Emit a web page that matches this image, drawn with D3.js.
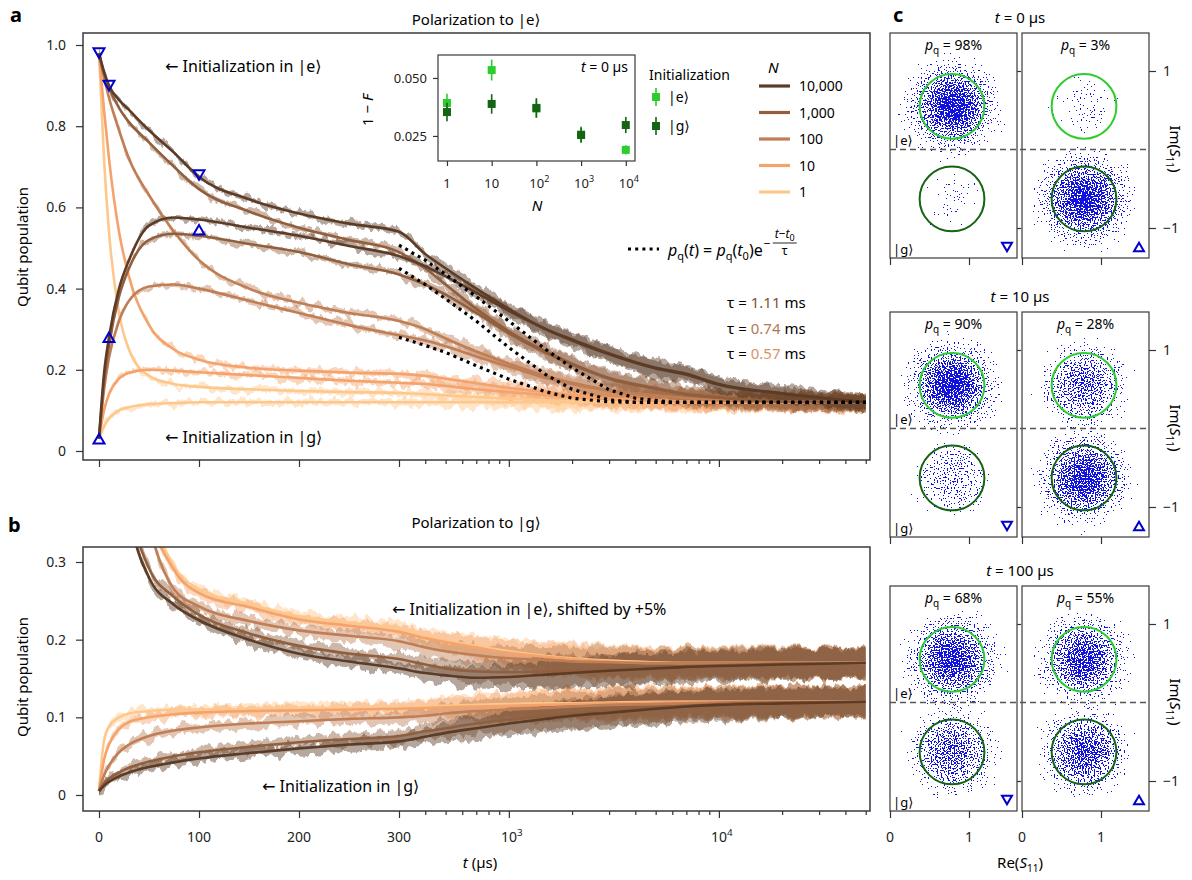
<!DOCTYPE html>
<html>
<head>
<meta charset="utf-8">
<script src="https://cdn.jsdelivr.net/npm/d3@7"></script>
<style>
  body { margin: 0; background: #fff; }
  svg { font-family: 'Noto Sans', 'DejaVu Sans', sans-serif; }
</style>
</head>
<body>
<svg id="fig" width="1192" height="880"></svg>
<script>
// ---------------- data ----------------
// time grid in µs shared by every trace
const tGrid = [0, 5, 10, 20, 30, 50, 75, 100, 150, 200, 250, 300, 400, 500, 700, 1000, 1500, 2000, 3000, 5000, 7000, 10000, 20000, 50000];
const nValues = [1, 10, 100, 1000, 10000];
const nLabels = ["1", "10", "100", "1,000", "10,000"];

// panel a: polarization to |e>
const eA1     = [0.98,0.72,0.54,0.34,0.25,0.185,0.165,0.158,0.152,0.148,0.145,0.143,0.14,0.137,0.133,0.129,0.125,0.123,0.121,0.12,0.12,0.12,0.12,0.12];
const gA1     = [0.03,0.06,0.08,0.10,0.108,0.115,0.118,0.12,0.12,0.12,0.12,0.12,0.12,0.12,0.12,0.12,0.12,0.12,0.12,0.12,0.12,0.12,0.12,0.12];
const eA10    = [0.98,0.84,0.72,0.54,0.43,0.31,0.25,0.225,0.205,0.198,0.193,0.19,0.185,0.178,0.167,0.155,0.145,0.138,0.13,0.125,0.122,0.12,0.12,0.12];
const gA10    = [0.03,0.10,0.14,0.178,0.193,0.20,0.198,0.194,0.187,0.18,0.173,0.168,0.165,0.16,0.152,0.145,0.138,0.133,0.128,0.123,0.121,0.12,0.12,0.12];
const eA100   = [0.98,0.92,0.87,0.79,0.72,0.63,0.54,0.47,0.40,0.365,0.34,0.32,0.30,0.277,0.245,0.215,0.185,0.168,0.15,0.137,0.13,0.125,0.121,0.12];
const gA100   = [0.03,0.15,0.23,0.32,0.37,0.405,0.41,0.40,0.37,0.34,0.31,0.285,0.272,0.258,0.233,0.208,0.18,0.165,0.148,0.136,0.13,0.125,0.121,0.12];
const eA1000  = [0.98,0.93,0.895,0.845,0.81,0.76,0.70,0.645,0.59,0.55,0.52,0.49,0.45,0.41,0.35,0.295,0.245,0.215,0.18,0.155,0.14,0.132,0.122,0.12];
const gA1000  = [0.03,0.17,0.26,0.38,0.45,0.52,0.535,0.53,0.51,0.49,0.46,0.435,0.41,0.385,0.34,0.29,0.242,0.213,0.178,0.153,0.139,0.131,0.122,0.12];
const eA10000 = [0.98,0.935,0.90,0.865,0.84,0.79,0.735,0.675,0.62,0.585,0.56,0.54,0.485,0.45,0.40,0.35,0.30,0.275,0.24,0.205,0.19,0.165,0.142,0.12];
const gA10000 = [0.03,0.19,0.28,0.40,0.47,0.555,0.575,0.57,0.55,0.53,0.505,0.48,0.455,0.43,0.39,0.345,0.30,0.272,0.238,0.203,0.188,0.163,0.141,0.12];

// panel b: polarization to |g> (|e> traces shifted by +5%)
const eB1     = [1.03,0.93,0.85,0.69,0.56,0.38,0.295,0.265,0.246,0.23,0.222,0.214,0.205,0.199,0.192,0.185,0.179,0.176,0.173,0.171,0.17,0.17,0.17,0.17];
const gB1     = [0.005,0.07,0.088,0.10,0.105,0.108,0.11,0.11,0.111,0.112,0.112,0.113,0.114,0.115,0.116,0.117,0.118,0.118,0.119,0.12,0.12,0.12,0.12,0.12];
const eB10    = [1.03,0.92,0.83,0.67,0.54,0.37,0.29,0.26,0.242,0.226,0.218,0.21,0.202,0.197,0.19,0.183,0.178,0.175,0.172,0.17,0.17,0.17,0.17,0.17];
const gB10    = [0.005,0.045,0.065,0.085,0.094,0.10,0.104,0.106,0.108,0.109,0.11,0.111,0.112,0.113,0.114,0.115,0.116,0.117,0.118,0.119,0.12,0.12,0.12,0.12];
const eB100   = [1.03,0.90,0.80,0.63,0.50,0.35,0.265,0.243,0.224,0.212,0.205,0.198,0.19,0.185,0.18,0.176,0.174,0.172,0.171,0.17,0.17,0.17,0.17,0.17];
const gB100   = [0.005,0.025,0.038,0.055,0.065,0.076,0.083,0.087,0.092,0.095,0.098,0.10,0.102,0.105,0.108,0.11,0.112,0.114,0.116,0.117,0.118,0.119,0.12,0.12];
const eB1000  = [1.03,0.82,0.68,0.51,0.39,0.292,0.255,0.232,0.208,0.192,0.182,0.175,0.168,0.163,0.159,0.158,0.159,0.16,0.162,0.165,0.166,0.167,0.169,0.17];
const gB1000  = [0.005,0.015,0.021,0.029,0.035,0.043,0.05,0.055,0.062,0.068,0.072,0.076,0.082,0.086,0.092,0.097,0.102,0.105,0.109,0.113,0.115,0.117,0.119,0.12];
const eB10000 = [1.03,0.80,0.65,0.48,0.37,0.28,0.245,0.225,0.20,0.182,0.172,0.163,0.157,0.154,0.151,0.152,0.155,0.157,0.16,0.163,0.165,0.166,0.168,0.17];
const gB10000 = [0.005,0.012,0.017,0.024,0.029,0.036,0.042,0.047,0.054,0.06,0.065,0.069,0.075,0.08,0.086,0.092,0.098,0.102,0.106,0.111,0.114,0.116,0.118,0.12];

// spread of the raw (noisy) traces around the fits, population units
const noiseHalf = [0.005,0.005,0.005,0.005,0.005,0.006,0.006,0.006,0.007,0.007,0.008,0.008,0.010,0.012,0.014,0.016,0.018,0.019,0.020,0.020,0.020,0.020,0.020,0.020];

// exponential fits (dotted), starting at t0 = 300 µs
const tDot   = [300, 400, 500, 700, 1000, 1500, 2000, 3000, 4000, 6000, 10000, 20000, 50000];
const dot111 = [0.507,0.47,0.435,0.38,0.32,0.25,0.205,0.151,0.13,0.12,0.12,0.12,0.12];
const dot074 = [0.45,0.41,0.375,0.32,0.255,0.188,0.152,0.126,0.12,0.12,0.12,0.12,0.12];
const dot057 = [0.28,0.26,0.243,0.21,0.177,0.146,0.13,0.121,0.12,0.12,0.12,0.12,0.12];
const tauLabels = ["1.11", "0.74", "0.57"];

// blue markers on panel a: [t, population]
const markDown = [[0, 0.98], [10, 0.90], [100, 0.68]];
const markUp   = [[0, 0.03], [10, 0.28], [100, 0.545]];

// inset: 1 - F versus N
const insetN  = [1, 10, 100, 1000, 10000];
const infidE  = [0.0392, 0.0534, 0.0368, 0.0256, 0.0190];
const errE    = [0.0040, 0.0045, 0.0040, 0.0035, 0.0020];
const infidG  = [0.0353, 0.0388, 0.0371, 0.0254, 0.0297];
const errG    = [0.0040, 0.0042, 0.0042, 0.0032, 0.0035];

// panel c: single-shot snapshots
const snapTimes = ["0", "10", "100"];
const pqLeft  = [98, 90, 68];
const pqRight = [3, 28, 55];
const circleE = [0.785, 0.55];   // Re, Im of |e> discrimination circle
const circleG = [0.785, -0.63];  // Re, Im of |g> discrimination circle
const circleR = 0.41;

const logMinor = [400,500,600,700,800,900,2000,3000,4000,5000,6000,7000,8000,9000,20000,30000,40000,50000];

// ---------------- styling ----------------
const fitColor = {1: "#fec88c", 10: "#f4a36d", 100: "#bf7e55", 1000: "#915f3e", 10000: "#5c3c26"};
const tauColor = ["#7e5233", "#b27a55", "#dc9262"];
const blue = "#1212dd";
const greenE = "#2ecc2e", greenG = "#146414";
const axisCol = "#333";

const svg = d3.select("#fig");
const defs = svg.append("defs");

// piecewise time axis: linear to 300 µs, logarithmic after
const xLin = d3.scaleLinear().domain([0, 300]).range([99, 399]);
const xLog = d3.scaleLog().domain([300, 52400]).range([399, 870]);
const xT = t => t <= 300 ? xLin(t) : xLog(t);

const yA = d3.scaleLinear().domain([0, 1]).range([451, 45]);
const yB = d3.scaleLinear().domain([0, 0.3]).range([795, 562]);

// jitter filters give the raw traces a noisy look
[3, 11, 23, 41].forEach((seed, k) => {
  const f = defs.append("filter").attr("id", "jitter" + k)
    .attr("filterUnits", "userSpaceOnUse").attr("x", 0).attr("y", 0).attr("width", 1192).attr("height", 880)
    .attr("color-interpolation-filters", "sRGB");
  f.append("feTurbulence").attr("type", "fractalNoise").attr("baseFrequency", "0.13 0.03")
    .attr("numOctaves", 3).attr("seed", seed).attr("result", "n");
  f.append("feColorMatrix").attr("in", "n").attr("type", "matrix")
    .attr("values", "0 0 0 0 0.5  1 0 0 0 0  0 0 0 0 0  0 0 0 0 1").attr("result", "d");
  f.append("feDisplacementMap").attr("in", "SourceGraphic").attr("in2", "d").attr("scale", 14)
    .attr("xChannelSelector", "R").attr("yChannelSelector", "G");
});

// speckle filter renders a scatter cloud from a density gradient
const grad = defs.append("radialGradient").attr("id", "cloudGrad");
[[0, 1], [0.1, 0.946], [0.2, 0.8], [0.3, 0.607], [0.4, 0.411], [0.5, 0.249], [0.6, 0.135],
 [0.7, 0.066], [0.8, 0.029], [0.9, 0.011], [1, 0]].forEach(([o, a]) =>
  grad.append("stop").attr("offset", o).attr("stop-color", "#fff").attr("stop-opacity", a));
// maps the noise to a roughly uniform value so coverage follows the gradient
const flatten = "0 0 0.0004 0.0018 0.0062 0.0188 0.0478 0.106 0.202 0.338 0.5 0.662 0.798 0.894 0.952 0.981 0.994 0.998 0.9996 1 1";
const speckMargin = 0.015;
[5, 17, 29, 37, 53, 61].forEach((seed, k) => {
  const f = defs.append("filter").attr("id", "speck" + k)
    .attr("x", 0).attr("y", 0).attr("width", 1).attr("height", 1)
    .attr("color-interpolation-filters", "sRGB");
  f.append("feTurbulence").attr("type", "fractalNoise").attr("baseFrequency", 0.7)
    .attr("numOctaves", 1).attr("seed", seed).attr("result", "noise");
  f.append("feColorMatrix").attr("in", "noise").attr("type", "matrix")
    .attr("values", "0 0 0 0 0  0 0 0 0 0  0 0 0 0 0  1 0 0 0 0").attr("result", "nA");
  f.append("feComponentTransfer").attr("in", "nA").attr("result", "nU")
    .append("feFuncA").attr("type", "table").attr("tableValues", flatten);
  f.append("feComposite").attr("in", "nU").attr("in2", "SourceGraphic").attr("operator", "arithmetic")
    .attr("k1", 0).attr("k2", 1).attr("k3", 1).attr("k4", -0.5 - speckMargin).attr("result", "sum");
  f.append("feComponentTransfer").attr("in", "sum").attr("result", "thr")
    .append("feFuncA").attr("type", "discrete").attr("tableValues", "0 1");
  f.append("feFlood").attr("flood-color", blue).attr("result", "blue");
  f.append("feComposite").attr("in", "blue").attr("in2", "thr").attr("operator", "in");
});

// ---------------- helpers ----------------
function sup(sel, base, exp) {
  sel.append("tspan").text(base);
  sel.append("tspan").attr("dy", -6).attr("font-size", "0.7em").text(exp);
}
function tri(cx, cy, s, down) {
  const h = s * 0.87;
  return down
    ? `M${cx - s / 2},${cy - h / 2}L${cx + s / 2},${cy - h / 2}L${cx},${cy + h / 2}Z`
    : `M${cx - s / 2},${cy + h / 2}L${cx + s / 2},${cy + h / 2}L${cx},${cy - h / 2}Z`;
}
function styleAxis(g) {
  g.select(".domain").remove();
  g.attr("font-family", null).attr("font-size", 14).attr("color", axisCol);
  g.selectAll("line").attr("stroke-width", 1.2);
  g.selectAll("text").attr("fill", "#222");
}

function drawTraces(yScale, series, clipId) {
  const layer = svg.append("g").attr("clip-path", `url(#${clipId})`);
  const band = d3.area()
    .x((d, i) => xT(tGrid[i]))
    .y0((d, i) => yScale(d - noiseHalf[i]))
    .y1((d, i) => yScale(d + noiseHalf[i]))
    .curve(d3.curveMonotoneX);
  const line = d3.line()
    .x((d, i) => xT(tGrid[i]))
    .y(d => yScale(d))
    .curve(d3.curveMonotoneX);
  series.forEach((s, k) => {
    [s.e, s.g].forEach((vals, j) => {
      layer.append("path").attr("d", band(vals))
        .attr("fill", fitColor[s.N]).attr("fill-opacity", 0.45)
        .attr("filter", `url(#jitter${(k * 2 + j) % 4})`);
    });
  });
  series.forEach(s => {
    [s.e, s.g].forEach(vals => {
      layer.append("path").attr("d", line(vals))
        .attr("fill", "none").attr("stroke", fitColor[s.N]).attr("stroke-width", 2.6);
    });
  });
  return layer;
}

function timeAxis(yPos, withLabels) {
  const g = svg.append("g");
  g.append("g").attr("transform", `translate(0,${yPos})`)
    .call(d3.axisBottom(xLin).tickValues([0, 100, 200, 300]).tickSize(7).tickFormat(""))
    .call(styleAxis);
  g.append("g").attr("transform", `translate(0,${yPos})`)
    .call(d3.axisBottom(xLog).tickValues([1000, 10000]).tickSize(7).tickFormat(""))
    .call(styleAxis);
  g.append("g").attr("transform", `translate(0,${yPos})`)
    .call(d3.axisBottom(xLog).tickValues(logMinor).tickSize(4).tickFormat(""))
    .call(styleAxis);
  if (withLabels) {
    [0, 100, 200, 300].forEach(v => g.append("text").attr("x", xLin(v)).attr("y", yPos + 31)
      .attr("text-anchor", "middle").attr("font-size", 14).attr("fill", "#222").text(v));
    [[1000, "3"], [10000, "4"]].forEach(([v, e]) => {
      const t = g.append("text").attr("x", xLog(v) + 3).attr("y", yPos + 31)
        .attr("text-anchor", "middle").attr("font-size", 14).attr("fill", "#222");
      sup(t, "10", e);
    });
  }
}

const seriesA = [
  {N: 1, e: eA1, g: gA1}, {N: 10, e: eA10, g: gA10}, {N: 100, e: eA100, g: gA100},
  {N: 1000, e: eA1000, g: gA1000}, {N: 10000, e: eA10000, g: gA10000}
];
const seriesB = [
  {N: 1, e: eB1, g: gB1}, {N: 10, e: eB10, g: gB10}, {N: 100, e: eB100, g: gB100},
  {N: 1000, e: eB1000, g: gB1000}, {N: 10000, e: eB10000, g: gB10000}
];

// ---------------- panel a ----------------
defs.append("clipPath").attr("id", "clipA").append("rect").attr("x", 83).attr("y", 33).attr("width", 787).attr("height", 427);
defs.append("clipPath").attr("id", "clipB").append("rect").attr("x", 83).attr("y", 547).attr("width", 787).attr("height", 264);

const layerA = drawTraces(yA, seriesA, "clipA");

// dotted exponential fits
const dotLine = d3.line().x((d, i) => xT(tDot[i])).y(d => yA(d));
[dot111, dot074, dot057].forEach(vals => {
  layerA.append("path").attr("d", dotLine(vals)).attr("fill", "none")
    .attr("stroke", "#000").attr("stroke-width", 3.2).attr("stroke-dasharray", "3,4.2");
});

// blue triangles
markDown.forEach(([t, p]) => svg.append("path").attr("d", tri(xT(t), yA(p), 11, true))
  .attr("fill", "none").attr("stroke", "#0000cc").attr("stroke-width", 2));
markUp.forEach(([t, p]) => svg.append("path").attr("d", tri(xT(t), yA(p), 11, false))
  .attr("fill", "none").attr("stroke", "#0000cc").attr("stroke-width", 2));

svg.append("rect").attr("x", 83).attr("y", 33).attr("width", 787).attr("height", 427)
  .attr("fill", "none").attr("stroke", "#3a3a3a").attr("stroke-width", 1.5);

svg.append("g").attr("transform", "translate(83,0)")
  .call(d3.axisLeft(yA).tickValues([0, 0.2, 0.4, 0.6, 0.8, 1.0])
    .tickFormat(d => d === 0 ? "0" : d.toFixed(1)).tickSize(7).tickPadding(10))
  .call(styleAxis);
timeAxis(460, false);

svg.append("text").attr("x", 10).attr("y", 22).attr("font-size", 20).attr("font-weight", "bold").text("a");
svg.append("text").attr("x", 476).attr("y", 25).attr("text-anchor", "middle").attr("font-size", 15).text("Polarization to |e⟩");
svg.append("text").attr("transform", "translate(28,247) rotate(-90)").attr("text-anchor", "middle")
  .attr("font-size", 15).text("Qubit population");
svg.append("text").attr("x", 165).attr("y", 72).attr("font-size", 16).text("← Initialization in |e⟩");
svg.append("text").attr("x", 165).attr("y", 443).attr("font-size", 16).text("← Initialization in |g⟩");

// formula legend for dotted fit
svg.append("line").attr("x1", 628).attr("x2", 659).attr("y1", 249).attr("y2", 249)
  .attr("stroke", "#000").attr("stroke-width", 3.2).attr("stroke-dasharray", "3,4.2");
const fm = svg.append("text").attr("x", 668).attr("y", 256).attr("font-size", 16);
fm.append("tspan").attr("font-style", "italic").text("p");
fm.append("tspan").attr("font-size", 11).attr("dy", 4).text("q");
fm.append("tspan").attr("dy", -4).text("(");
fm.append("tspan").attr("font-style", "italic").text("t");
fm.append("tspan").text(") = ");
fm.append("tspan").attr("font-style", "italic").text("p");
fm.append("tspan").attr("font-size", 11).attr("dy", 4).text("q");
fm.append("tspan").attr("dy", -4).text("(");
fm.append("tspan").attr("font-style", "italic").text("t");
fm.append("tspan").attr("font-size", 11).attr("dy", 4).text("0");
fm.append("tspan").attr("dy", -4).text(")e");
const fmEnd = 668 + fm.node().getComputedTextLength();
svg.append("text").attr("x", fmEnd + 1).attr("y", 248).attr("font-size", 12).text("−");
const fx = fmEnd + 22;
const num = svg.append("text").attr("x", fx).attr("y", 238).attr("text-anchor", "middle").attr("font-size", 12);
num.append("tspan").attr("font-style", "italic").text("t");
num.append("tspan").text("−");
num.append("tspan").attr("font-style", "italic").text("t");
num.append("tspan").attr("font-size", 9).attr("dy", 3).text("0");
svg.append("line").attr("x1", fx - 12).attr("x2", fx + 12).attr("y1", 243).attr("y2", 243)
  .attr("stroke", "#111").attr("stroke-width", 0.9);
svg.append("text").attr("x", fx).attr("y", 255).attr("text-anchor", "middle").attr("font-size", 12).text("τ");

tauLabels.forEach((lab, i) => {
  const t = svg.append("text").attr("x", 727).attr("y", 308 + i * 25.5).attr("font-size", 15);
  t.append("tspan").text("τ = ");
  t.append("tspan").attr("fill", tauColor[i]).text(lab);
  t.append("tspan").text(" ms");
});

// N legend
svg.append("text").attr("x", 768).attr("y", 73).attr("font-size", 15).attr("font-style", "italic").text("N");
nValues.slice().reverse().forEach((n, i) => {
  const y = 86 + i * 26.5;
  svg.append("line").attr("x1", 759).attr("x2", 790).attr("y1", y).attr("y2", y)
    .attr("stroke", fitColor[n]).attr("stroke-width", 3.2);
  svg.append("text").attr("x", 799).attr("y", y + 5).attr("font-size", 14)
    .text(nLabels[nValues.indexOf(n)]);
});

// ---------------- inset ----------------
const xIn = d3.scaleLog().domain([0.63, 16070]).range([438, 635]);
const yIn = d3.scaleLinear().domain([0.0142, 0.0599]).range([161, 55]);
svg.append("rect").attr("x", 438).attr("y", 55).attr("width", 197).attr("height", 106)
  .attr("fill", "#fff").attr("stroke", "#3a3a3a").attr("stroke-width", 1.2);
svg.append("g").attr("transform", "translate(438,0)")
  .call(d3.axisLeft(yIn).tickValues([0.025, 0.05]).tickFormat(d3.format(".3f")).tickSize(5).tickPadding(6))
  .call(styleAxis).attr("font-size", 13);
svg.append("g").attr("transform", "translate(0,161)")
  .call(d3.axisBottom(xIn).tickValues(insetN).tickFormat("").tickSize(5))
  .call(styleAxis);
const inLabels = [["1", ""], ["10", ""], ["10", "2"], ["10", "3"], ["10", "4"]];
insetN.forEach((n, i) => {
  const t = svg.append("text").attr("x", xIn(n) + (inLabels[i][1] ? 3 : 0)).attr("y", 188)
    .attr("text-anchor", "middle").attr("font-size", 13).attr("fill", "#222");
  sup(t, inLabels[i][0], inLabels[i][1]);
});
svg.append("text").attr("x", 537).attr("y", 211).attr("text-anchor", "middle")
  .attr("font-size", 15).attr("font-style", "italic").text("N");
const oneF = svg.append("text").attr("transform", "translate(373,110) rotate(-90)")
  .attr("text-anchor", "middle").attr("font-size", 15);
oneF.append("tspan").text("1 − ");
oneF.append("tspan").attr("font-style", "italic").text("F");
const tin = svg.append("text").attr("x", 628).attr("y", 72).attr("text-anchor", "end").attr("font-size", 14);
tin.append("tspan").attr("font-style", "italic").text("t");
tin.append("tspan").text(" = 0 µs");

function insetSeries(vals, errs, col) {
  insetN.forEach((n, i) => {
    svg.append("line").attr("x1", xIn(n)).attr("x2", xIn(n))
      .attr("y1", yIn(vals[i] - errs[i])).attr("y2", yIn(vals[i] + errs[i]))
      .attr("stroke", col).attr("stroke-width", 1.6);
    svg.append("rect").attr("x", xIn(n) - 4).attr("y", yIn(vals[i]) - 4)
      .attr("width", 8).attr("height", 8).attr("fill", col);
  });
}
insetSeries(infidE, errE, greenE);
insetSeries(infidG, errG, greenG);

svg.append("text").attr("x", 649).attr("y", 80).attr("font-size", 14).text("Initialization");
[[97, greenE, "|e⟩"], [126, greenG, "|g⟩"]].forEach(([y, col, lab]) => {
  svg.append("line").attr("x1", 656).attr("x2", 656).attr("y1", y - 9).attr("y2", y + 9)
    .attr("stroke", col).attr("stroke-width", 1.6);
  svg.append("rect").attr("x", 652).attr("y", y - 4).attr("width", 8).attr("height", 8).attr("fill", col);
  svg.append("text").attr("x", 668).attr("y", y + 5).attr("font-size", 14).text(lab);
});

// ---------------- panel b ----------------
drawTraces(yB, seriesB, "clipB");
svg.append("rect").attr("x", 83).attr("y", 547).attr("width", 787).attr("height", 264)
  .attr("fill", "none").attr("stroke", "#3a3a3a").attr("stroke-width", 1.5);
svg.append("g").attr("transform", "translate(83,0)")
  .call(d3.axisLeft(yB).tickValues([0, 0.1, 0.2, 0.3])
    .tickFormat(d => d === 0 ? "0" : d.toFixed(1)).tickSize(7).tickPadding(10))
  .call(styleAxis);
timeAxis(811, true);

svg.append("text").attr("x", 8).attr("y", 532).attr("font-size", 20).attr("font-weight", "bold").text("b");
svg.append("text").attr("x", 476).attr("y", 528).attr("text-anchor", "middle").attr("font-size", 15).text("Polarization to |g⟩");
svg.append("text").attr("transform", "translate(28,677) rotate(-90)").attr("text-anchor", "middle")
  .attr("font-size", 15).text("Qubit population");
svg.append("text").attr("x", 392).attr("y", 615).attr("font-size", 16).text("← Initialization in |e⟩, shifted by +5%");
svg.append("text").attr("x", 262).attr("y", 792).attr("font-size", 16).text("← Initialization in |g⟩");
const xl = svg.append("text").attr("x", 480).attr("y", 868).attr("text-anchor", "middle").attr("font-size", 15);
xl.append("tspan").attr("font-style", "italic").text("t");
xl.append("tspan").text(" (µs)");

// ---------------- panel c ----------------
svg.append("text").attr("x", 893).attr("y", 22).attr("font-size", 20).attr("font-weight", "bold").text("c");
const groupTop = [33, 312, 586];
const subLeft = [890, 1022];
const subW = 127, subH = 225;

snapTimes.forEach((tLab, gi) => {
  const top = groupTop[gi];
  const yIm = d3.scaleLinear().domain([-1, 1]).range([top + 195, top + 38]);
  const title = svg.append("text").attr("x", 1020).attr("y", top - 10).attr("text-anchor", "middle").attr("font-size", 15);
  title.append("tspan").attr("font-style", "italic").text("t");
  title.append("tspan").text(` = ${tLab} µs`);

  [pqLeft[gi], pqRight[gi]].forEach((pq, si) => {
    const x0 = subLeft[si];
    const xRe = d3.scaleLinear().domain([0, 1]).range([x0, x0 + 79]);
    const cid = `clipC${gi}${si}`;
    defs.append("clipPath").attr("id", cid).append("rect")
      .attr("x", x0).attr("y", top).attr("width", subW).attr("height", subH);
    const sub = svg.append("g").attr("clip-path", `url(#${cid})`);
    const cloudR = xRe(0.9) - xRe(0);
    [[circleE, pq / 100], [circleG, 1 - pq / 100]].forEach(([c, frac], ci) => {
      // centre coverage grows with the share of shots in this state
      const dens = speckMargin + 0.03 + 0.9 * (1 - Math.exp(-2.5 * frac));
      sub.append("circle").attr("cx", xRe(c[0])).attr("cy", yIm(c[1])).attr("r", cloudR)
        .attr("fill", "url(#cloudGrad)").attr("fill-opacity", dens)
        .attr("filter", `url(#speck${(gi * 2 + si * 3 + ci) % 6})`);
    });
    [[circleE, greenE], [circleG, greenG]].forEach(([c, col]) => {
      sub.append("circle").attr("cx", xRe(c[0])).attr("cy", yIm(c[1])).attr("r", xRe(circleR) - xRe(0))
        .attr("fill", "none").attr("stroke", col).attr("stroke-width", 2);
    });
    svg.append("rect").attr("x", x0).attr("y", top).attr("width", subW).attr("height", subH)
      .attr("fill", "none").attr("stroke", "#3a3a3a").attr("stroke-width", 1.2);
    const pt = svg.append("text").attr("x", x0 + subW / 2).attr("y", top + 17)
      .attr("text-anchor", "middle").attr("font-size", 14);
    pt.append("tspan").attr("font-style", "italic").text("p");
    pt.append("tspan").attr("font-size", 10).attr("dy", 4).text("q");
    pt.append("tspan").attr("dy", -4).text(` = ${pq}%`);
    // Re ticks
    svg.append("g").attr("transform", `translate(0,${top + subH})`)
      .call(d3.axisBottom(xRe).tickValues([0, 1]).tickSize(7).tickFormat(""))
      .call(styleAxis);
    if (gi === 2) {
      [0, 1].forEach(v => svg.append("text").attr("x", xRe(v)).attr("y", top + subH + 31)
        .attr("text-anchor", "middle").attr("font-size", 14).attr("fill", "#222").text(v));
    }
    // Im ticks on the right edge of each sub-panel
    svg.append("g").attr("transform", `translate(${x0 + subW},0)`)
      .call(d3.axisRight(yIm).tickValues([-1, 1]).tickSize(si === 1 ? 7 : 4).tickFormat(""))
      .call(styleAxis);
    svg.append("path").attr("d", tri(x0 + subW - 10, top + 214, 10, si === 0))
      .attr("fill", "none").attr("stroke", "#0000cc").attr("stroke-width", 2);
  });

  svg.append("line").attr("x1", 890).attr("x2", 1149).attr("y1", yIm(0)).attr("y2", yIm(0))
    .attr("stroke", "#555").attr("stroke-width", 1.3).attr("stroke-dasharray", "6,4");
  svg.append("text").attr("x", 893).attr("y", yIm(0) - 5).attr("font-size", 13).text("|e⟩");
  svg.append("text").attr("x", 893).attr("y", top + 221).attr("font-size", 13).text("|g⟩");
  [[1, "1"], [-1, "−1"]].forEach(([v, lab]) => svg.append("text").attr("x", 1163).attr("y", yIm(v) + 5)
    .attr("font-size", 14).attr("fill", "#222").text(lab));
  const im = svg.append("text").attr("transform", `translate(1170,${top + 116}) rotate(90)`)
    .attr("text-anchor", "middle").attr("font-size", 15);
  im.append("tspan").text("Im(");
  im.append("tspan").attr("font-style", "italic").text("S");
  im.append("tspan").attr("font-size", 10).attr("dy", 4).text("11");
  im.append("tspan").attr("dy", -4).text(")");
});
const re = svg.append("text").attr("x", 1020).attr("y", 868).attr("text-anchor", "middle").attr("font-size", 15);
re.append("tspan").text("Re(");
re.append("tspan").attr("font-style", "italic").text("S");
re.append("tspan").attr("font-size", 10).attr("dy", 4).text("11");
re.append("tspan").attr("dy", -4).text(")");
</script>
</body>
</html>
